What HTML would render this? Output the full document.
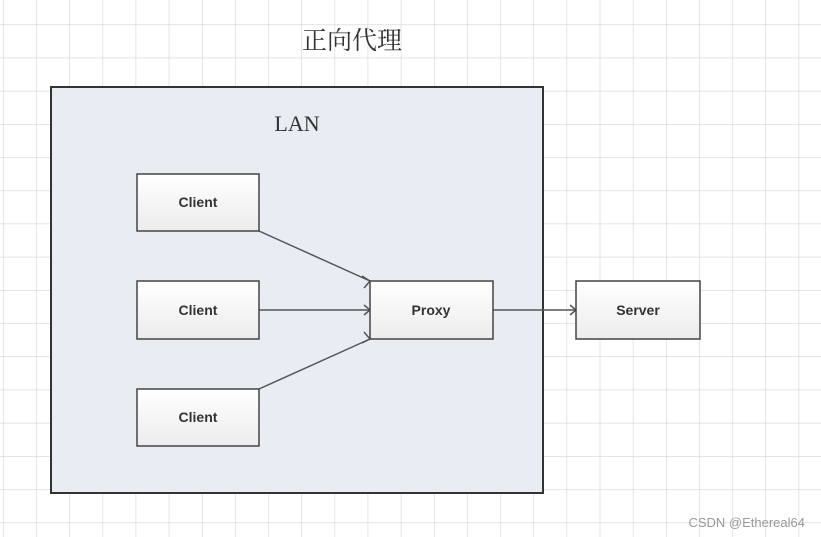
<!DOCTYPE html>
<html><head><meta charset="utf-8"><style>
html,body{margin:0;padding:0;background:#fff;}
svg{display:block;}
</style></head><body>
<svg width="821" height="537" viewBox="0 0 821 537" xmlns="http://www.w3.org/2000/svg">
<defs>
<pattern id="g" x="3" y="24.4" width="33.15" height="33.2" patternUnits="userSpaceOnUse">
<path d="M0 0H33.15M0 0V33.2" stroke="#d4d4d4" stroke-width="1.2" fill="none"/>
</pattern>
<linearGradient id="bx" x1="0" y1="0" x2="0" y2="1">
<stop offset="0" stop-color="#ffffff"/><stop offset="1" stop-color="#ececec"/>
</linearGradient>
</defs>
<rect width="821" height="537" fill="#fff"/>
<rect width="821" height="537" fill="url(#g)"/>
<text x="352" y="49" font-family="'Noto Serif CJK SC','Noto Sans CJK SC',serif" font-size="25" fill="#333" text-anchor="middle">正向代理</text>
<rect x="51" y="87" width="492" height="406" fill="#e8ecf3" stroke="#333" stroke-width="2"/>
<text x="297" y="131" font-family="'Liberation Serif',serif" font-size="22" fill="#333" text-anchor="middle">LAN</text>
<g stroke="#555" stroke-width="1.5" fill="none">
<line x1="259" y1="231" x2="370" y2="281"/>
<line x1="259" y1="310" x2="370" y2="310"/>
<line x1="259" y1="389" x2="370" y2="339"/>
<line x1="493" y1="310" x2="576" y2="310"/>
<path d="M362 276L370 281L364 288"/>
<path d="M364 305L370 310L364 315"/>
<path d="M364 332L370 339L362 343"/>
<path d="M570 305L576 310L570 315"/>
</g>
<g stroke="#444" stroke-width="1.5" fill="url(#bx)">
<rect x="137" y="174" width="122" height="57"/>
<rect x="137" y="281" width="122" height="58"/>
<rect x="137" y="389" width="122" height="57"/>
<rect x="370" y="281" width="123" height="58"/>
<rect x="576" y="281" width="124" height="58"/>
</g>
<g font-family="'Liberation Sans',sans-serif" font-size="14" font-weight="bold" fill="#333" text-anchor="middle">
<text x="198" y="207">Client</text>
<text x="198" y="315">Client</text>
<text x="198" y="422">Client</text>
<text x="431" y="315">Proxy</text>
<text x="638" y="315">Server</text>
</g>
<text x="805" y="527" font-family="'Liberation Sans',sans-serif" font-size="13" fill="#999" text-anchor="end">CSDN @Ethereal64</text>
</svg>
</body></html>
